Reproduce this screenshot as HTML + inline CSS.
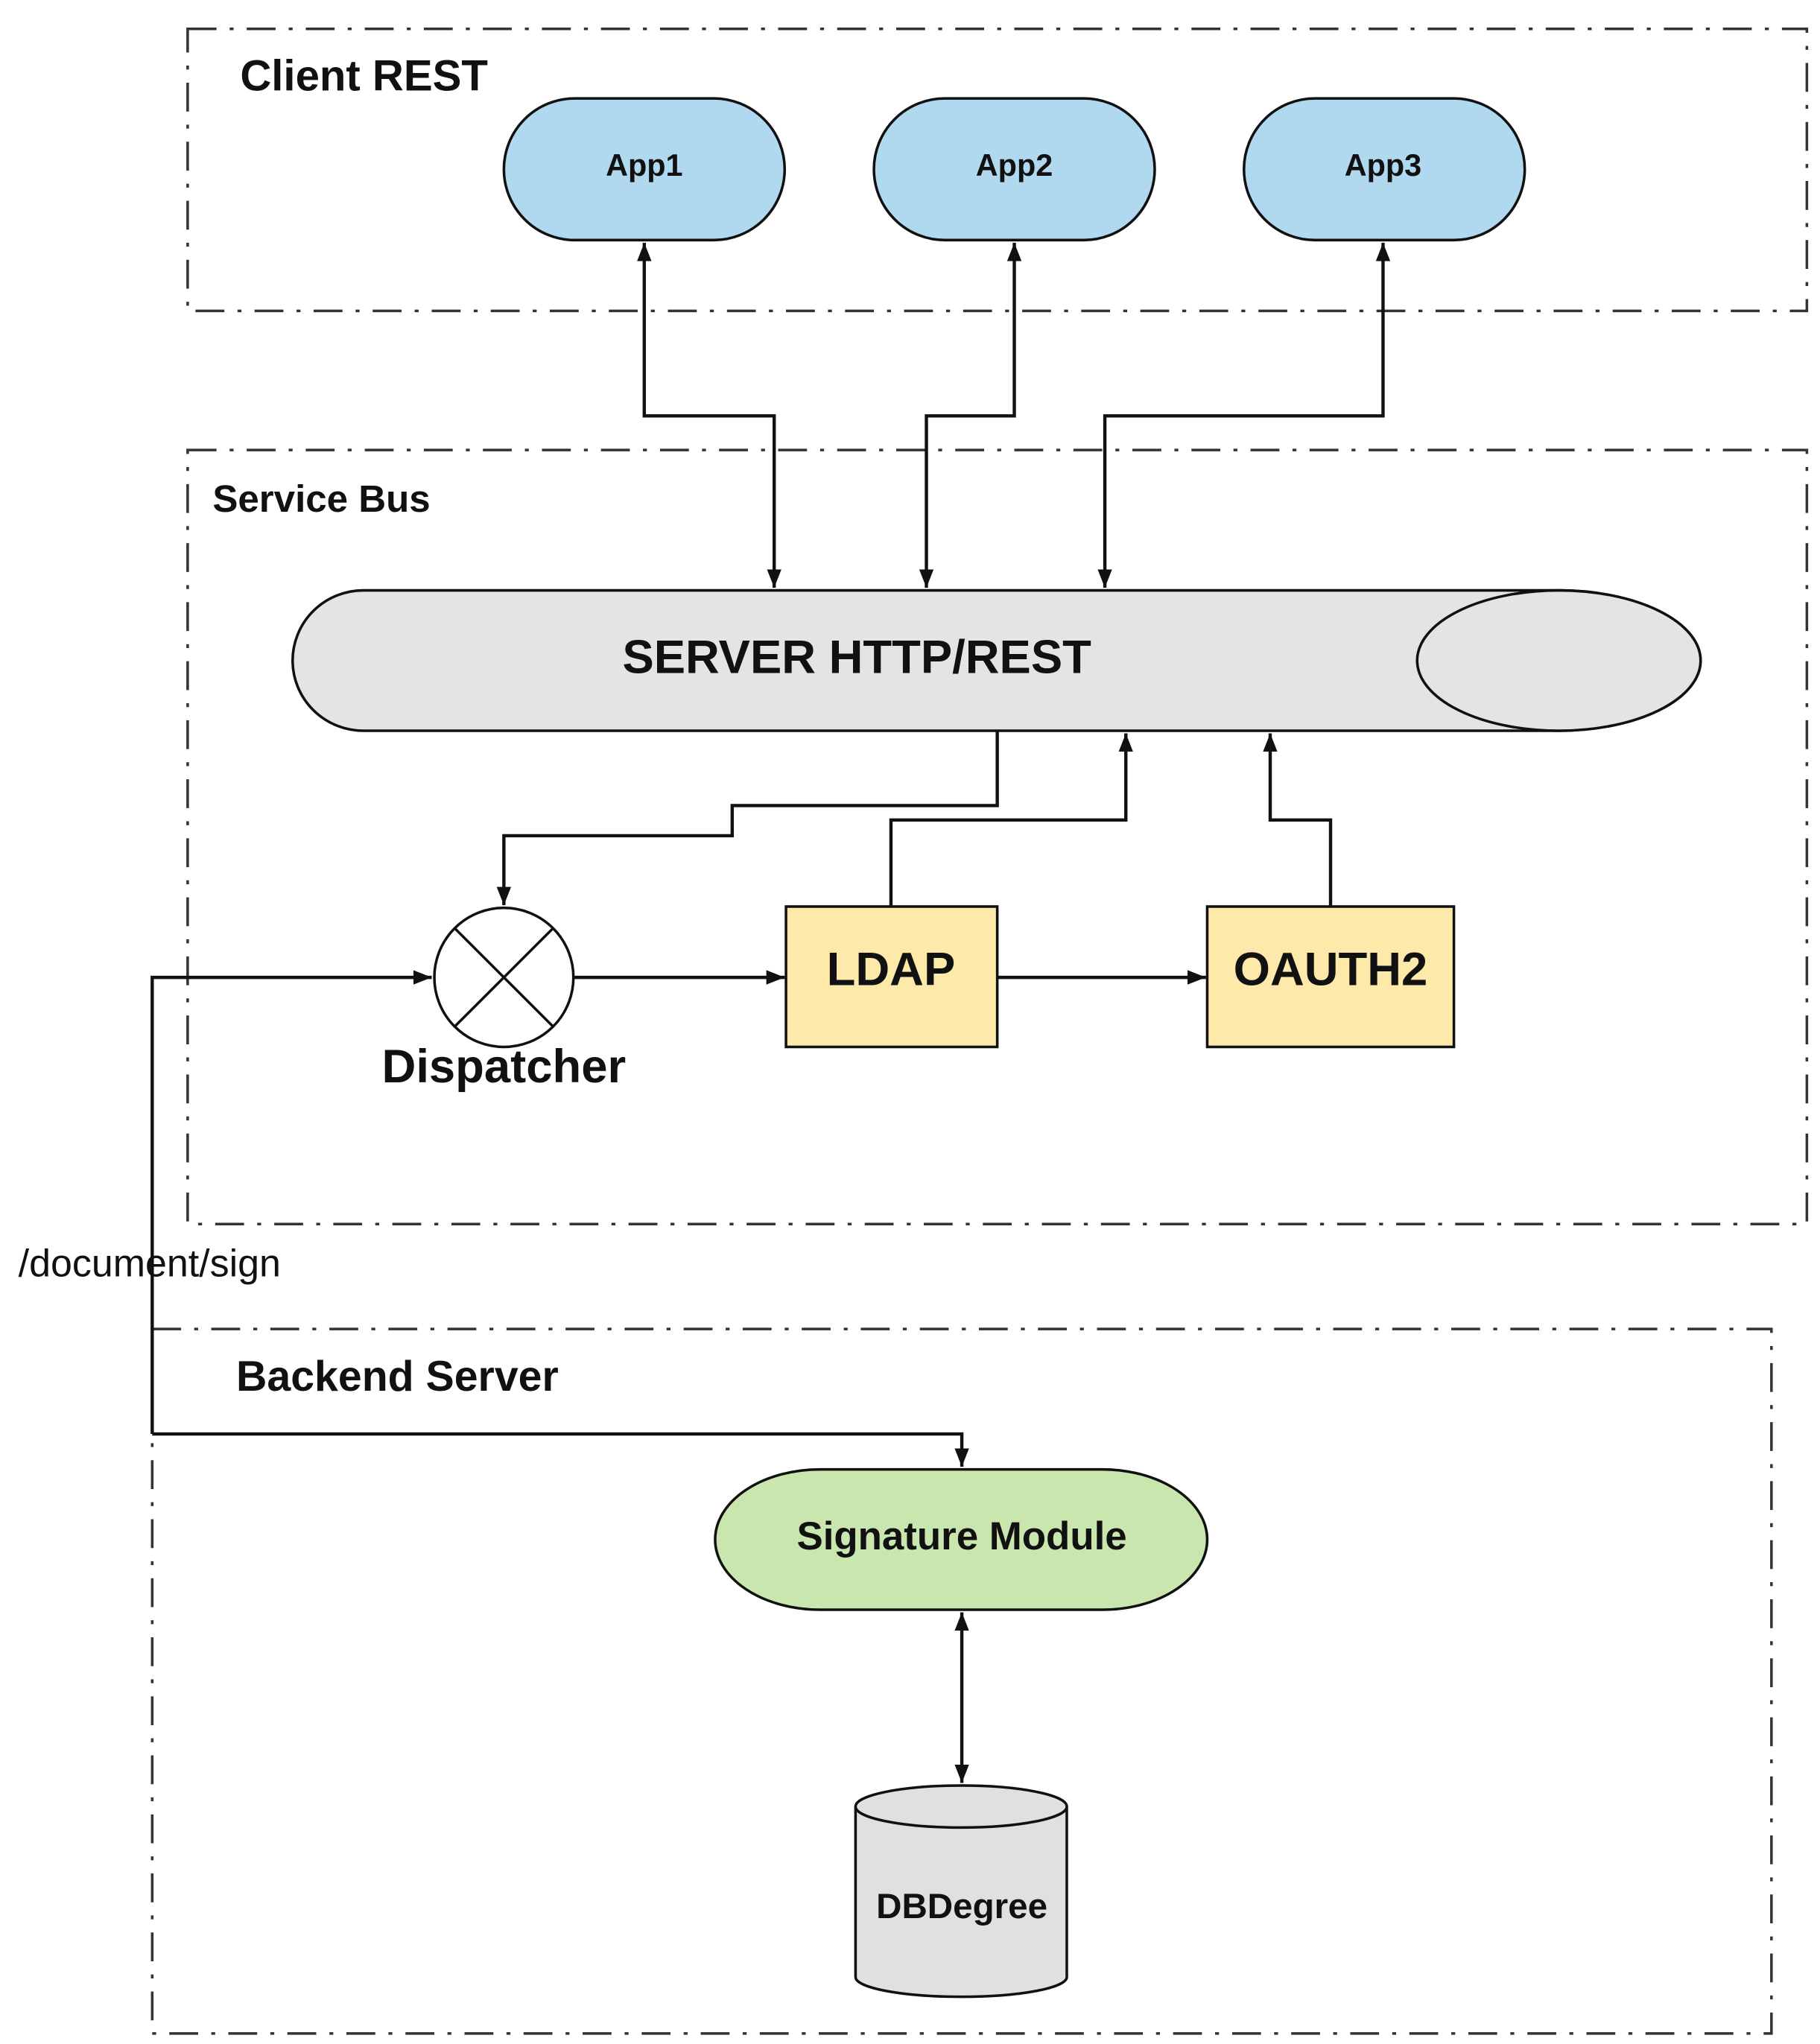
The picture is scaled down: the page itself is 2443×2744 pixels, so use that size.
<!DOCTYPE html>
<html><head><meta charset="utf-8"><style>
html,body{margin:0;padding:0;background:#fff;}
svg{display:block;}
text{font-family:"Liberation Sans",sans-serif;fill:#111;}
</style></head><body>
<svg width="2443" height="2744" viewBox="0 0 1387 1558" preserveAspectRatio="none" xmlns="http://www.w3.org/2000/svg">
<defs>
<marker id="a" viewBox="0 0 14 12" refX="14" refY="6" markerWidth="14" markerHeight="12" markerUnits="userSpaceOnUse" orient="auto-start-reverse">
<path d="M0,0.5 L14,6 L0,11.5 z" fill="#111"/></marker>
</defs>
<g fill="none" stroke="#333" stroke-width="2" stroke-dasharray="22 10 3 10">
<rect x="143" y="22" width="1234" height="215"/>
<rect x="143" y="343" width="1234" height="590"/>
<rect x="116" y="1013" width="1234" height="537"/>
</g>
<text x="183" y="69" font-size="33" font-weight="bold">Client REST</text>
<text x="162" y="390" font-size="29" font-weight="bold">Service Bus</text>
<text x="180" y="1060" font-size="32.5" font-weight="bold">Backend Server</text>
<text x="14" y="973" font-size="29.5">/document/sign</text>

<g stroke="#111" stroke-width="2">
<rect x="384" y="75" width="214" height="108" rx="54" ry="54" fill="#b0d8ef"/>
<rect x="666" y="75" width="214" height="108" rx="54" ry="54" fill="#b0d8ef"/>
<rect x="948" y="75" width="214" height="108" rx="54" ry="54" fill="#b0d8ef"/>
</g>
<g font-size="23.5" font-weight="bold" text-anchor="middle">
<text x="491" y="134">App1</text><text x="773" y="134">App2</text><text x="1054" y="134">App3</text>
</g>

<path d="M277,450 L1188,450 A108,53.5 0 0 1 1188,557 L277,557 A54,53.5 0 0 1 277,450 z" fill="#e4e4e4" stroke="#111" stroke-width="2"/>
<ellipse cx="1188" cy="503.5" rx="108" ry="53.5" fill="#e4e4e4" stroke="#111" stroke-width="2"/>
<text x="653" y="513" font-size="36" font-weight="bold" text-anchor="middle">SERVER HTTP/REST</text>

<g fill="none" stroke="#111" stroke-width="2.5">
<path d="M491,185 V317 H590 V448" marker-start="url(#a)" marker-end="url(#a)"/>
<path d="M773,185 V317 H706 V448" marker-start="url(#a)" marker-end="url(#a)"/>
<path d="M1054,185 V317 H842 V448" marker-start="url(#a)" marker-end="url(#a)"/>
<path d="M760,557 V614 H558 V637 H384 V690" marker-end="url(#a)"/>
<path d="M679,691 V625 H858 V559" marker-end="url(#a)"/>
<path d="M1014,691 V625 H968 V559" marker-end="url(#a)"/>
<path d="M438,745 H598" marker-end="url(#a)"/>
<path d="M760,745 H919" marker-end="url(#a)"/>
<path d="M116,1093 V745 H329" marker-end="url(#a)"/>
<path d="M116,1093 H733 V1118" marker-end="url(#a)"/>
<path d="M733,1229 V1359" marker-start="url(#a)" marker-end="url(#a)"/>
</g>

<g stroke="#111" stroke-width="2">
<rect x="599" y="691" width="161" height="107" fill="#fde9a9"/>
<rect x="920" y="691" width="188" height="107" fill="#fde9a9"/>
<circle cx="384" cy="745" r="53" fill="#fff"/>
<line x1="347" y1="708" x2="421" y2="782"/><line x1="421" y1="708" x2="347" y2="782"/>
<rect x="545" y="1120" width="375" height="107" rx="80" ry="53.5" fill="#c8e6ad"/>
<path d="M652,1377 V1507 A80.5,15 0 0 0 813,1507 V1377" fill="#e0e0e0"/>
<ellipse cx="732.5" cy="1377" rx="80.5" ry="16" fill="#e0e0e0"/>
</g>
<text x="679" y="751" font-size="36" font-weight="bold" text-anchor="middle">LDAP</text>
<text x="1014" y="751" font-size="36" font-weight="bold" text-anchor="middle">OAUTH2</text>
<text x="384" y="825" font-size="36" font-weight="bold" text-anchor="middle">Dispatcher</text>
<text x="733" y="1181" font-size="30" font-weight="bold" text-anchor="middle">Signature Module</text>
<text x="733" y="1462" font-size="27" font-weight="bold" text-anchor="middle">DBDegree</text>
</svg>
</body></html>
